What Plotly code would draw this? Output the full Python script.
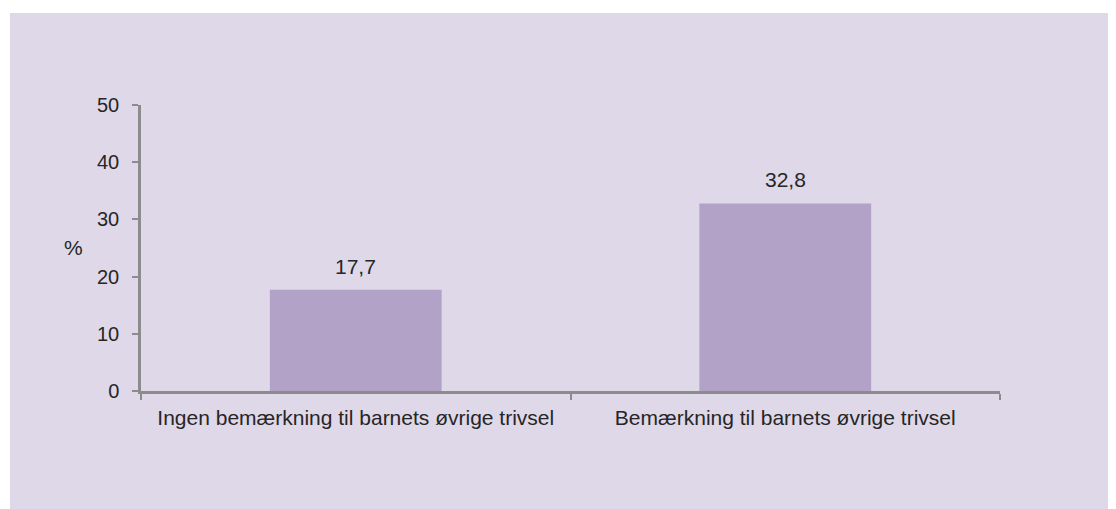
import plotly.graph_objects as go

categories = ["Ingen bemærkning til barnets øvrige trivsel", "Bemærkning til barnets øvrige trivsel"]
values = [17.7, 32.8]
y_ticks = [0, 10, 20, 30, 40, 50]

BG = "#DFD8E8"
BAR = "#B3A2C8"
AXIS = "#8C8C8C"
TXT = "#262626"
FONT = "Liberation Sans, Arial, sans-serif"

# figure is placed at (8, 8) in the page by the default body margin
W, H = 1108, 501
ML, MR, MT, MB = 133, 116, 97, 118
PW, PH = W - ML - MR, H - MT - MB


def px(xp):
    return (xp - 8 - ML) / PW


def py(yp):
    return (H - MB - (yp - 8)) / PH


fig = go.Figure()
fig.add_trace(go.Bar(
    x=categories, y=values, marker=dict(color=BAR, line=dict(width=0)),
    width=0.4, hoverinfo="skip",
))
for c, v in zip(categories, values):
    fig.add_annotation(x=c, y=v, text=f"{v:.1f}".replace(".", ","), showarrow=False,
                       yanchor="bottom", yshift=10, font=dict(size=21, color=TXT, family=FONT))

fig.add_annotation(xref="paper", yref="paper", x=px(73), y=py(247),
                   text="%", showarrow=False, xanchor="center", yanchor="middle",
                   font=dict(size=21, color=TXT, family=FONT))

# lavender panel with white strips at top and left
fig.add_shape(type="rect", xref="paper", yref="paper",
              x0=px(10), x1=px(1130), y0=py(520), y1=py(13),
              fillcolor=BG, line=dict(width=0), layer="below")

fig.update_layout(
    width=W, height=H,
    margin=dict(l=ML, r=MR, t=MT, b=MB),
    paper_bgcolor="white", plot_bgcolor="rgba(0,0,0,0)",
    showlegend=False, bargap=0.6,
    font=dict(family=FONT, size=21, color=TXT),
    xaxis=dict(
        showline=True, linecolor=AXIS, linewidth=2.5, ticks="outside", tickson="boundaries",
        ticklen=6, tickcolor=AXIS, tickwidth=2, showgrid=False, zeroline=False,
        tickfont=dict(size=21, color=TXT, family=FONT), ticklabelstandoff=6,
    ),
    yaxis=dict(
        range=[0, 50], tickvals=y_ticks, showline=True, linecolor=AXIS, linewidth=2.5,
        ticks="outside", ticklen=6, tickcolor=AXIS, tickwidth=2, showgrid=False, zeroline=False,
        tickfont=dict(size=20, color=TXT, family=FONT), ticklabelstandoff=9,
    ),
)

fig.write_html("out.html")
